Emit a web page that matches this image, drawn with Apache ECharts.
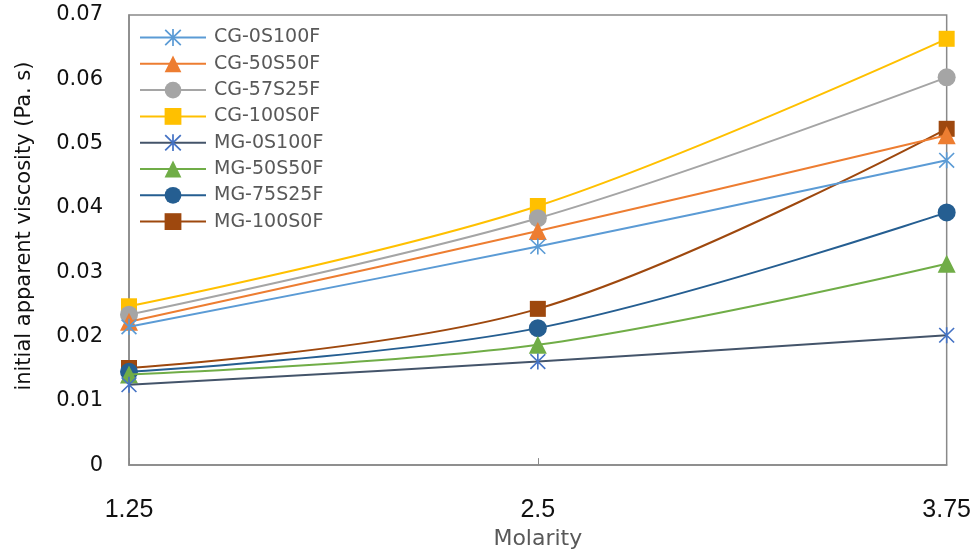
<!DOCTYPE html>
<html>
<head>
<meta charset="utf-8">
<script src="https://cdn.jsdelivr.net/npm/echarts@6/dist/echarts.min.js"></script>
<style>html,body{margin:0;padding:0;background:#fff;}#main{width:974px;height:555px;}</style>
</head>
<body>
<div id="main"></div>
<script>
// ---- data ----
var molarity = [1.25, 2.5, 3.75];
var xTicks = ['1.25', '2.5', '3.75'];
var seriesNames = ['CG-0S100F','CG-50S50F','CG-57S25F','CG-100S0F','MG-0S100F','MG-50S50F','MG-75S25F','MG-100S0F'];
var cg0S100F  = [0.0215, 0.0340, 0.0474];
var cg50S50F  = [0.0223, 0.0364, 0.0513];
var cg57S25F  = [0.0234, 0.0384, 0.0603];
var cg100S0F  = [0.0247, 0.0403, 0.0663];
var mg0S100F  = [0.0125, 0.0161, 0.0202];
var mg50S50F  = [0.0141, 0.0187, 0.0313];
var mg75S25F  = [0.0145, 0.0213, 0.0393];
var mg100S0F  = [0.0151, 0.0243, 0.0523];
var yTicks = [0, 0.01, 0.02, 0.03, 0.04, 0.05, 0.06, 0.07];

// star (asterisk) marker path built from thin bars
function bar(x1,y1,x2,y2,t){
  var dx=x2-x1, dy=y2-y1, L=Math.sqrt(dx*dx+dy*dy);
  var nx=-dy/L*t, ny=dx/L*t;
  return 'M'+(x1+nx)+','+(y1+ny)+'L'+(x2+nx)+','+(y2+ny)+'L'+(x2-nx)+','+(y2-ny)+'L'+(x1-nx)+','+(y1-ny)+'Z';
}
var starPath = 'path://' + bar(-10,-10,10,10,1.1) + bar(-10,10,10,-10,1.1) + bar(0,-11,0,11,1.1);

var colors = ['#5B9BD5','#ED7D31','#A5A5A5','#FFC000','#44546A','#70AD47','#255E91','#9E480E'];
var markerColors = ['#5B9BD5','#ED7D31','#A5A5A5','#FFC000','#4472C4','#70AD47','#255E91','#9E480E'];
var symbols = [starPath,'triangle','circle','rect',starPath,'triangle','circle','rect'];
var sizes = [16,18,18,16,16,18,18,16];
var values = [cg0S100F,cg50S50F,cg57S25F,cg100S0F,mg0S100F,mg50S50F,mg75S25F,mg100S0F];

var series = seriesNames.map(function(n,i){
  return {
    name: n, type: 'line', smooth: 0.35,
    data: molarity.map(function(x,j){ return [x, values[i][j]]; }),
    symbol: symbols[i], symbolSize: sizes[i], showSymbol: true,
    lineStyle: {color: colors[i], width: 2},
    itemStyle: {color: markerColors[i]},
    z: 2 + (8 - i)
  };
});

var chart = echarts.init(document.getElementById('main'));
chart.setOption({
  animation: false,
  grid: {left: 129, right: 25, top: 15, bottom: 80, show: true, borderColor: '#898989', borderWidth: 1.5},
  legend: {
    orient: 'vertical', left: 139, top: 28, padding: 0,
    itemWidth: 66, itemHeight: 21, itemGap: 7.3,
    data: seriesNames,
    textStyle: {fontFamily: 'DejaVu Sans', fontSize: 19, color: '#595959', padding: [0,0,0,3]}
  },
  xAxis: {
    type: 'value', min: 1.25, max: 3.75, interval: 1.25,
    name: 'Molarity', nameLocation: 'middle', nameGap: 53,
    nameTextStyle: {fontFamily: 'DejaVu Sans', fontSize: 22, color: '#595959'},
    axisLine: {show: true, lineStyle: {color: '#898989', width: 1.5}},
    axisTick: {show: true, inside: true, length: 7, lineStyle: {color: '#898989', width: 1}},
    splitLine: {show: false},
    axisLabel: {margin: 33, fontFamily: 'Liberation Sans', fontSize: 25, color: '#111',
      formatter: function(v){ var i = molarity.indexOf(v); return i >= 0 ? xTicks[i] : ''; }}
  },
  yAxis: {
    type: 'value', min: 0, max: 0.07, interval: 0.01,
    name: 'initial apparent viscosity (Pa. s)', nameLocation: 'middle', nameGap: 94,
    nameTextStyle: {fontFamily: 'DejaVu Sans', fontSize: 21, color: '#111', padding: [0,0,0,28]},
    axisLine: {show: true, lineStyle: {color: '#898989', width: 1.5}},
    axisTick: {show: false},
    splitLine: {show: false},
    axisLabel: {margin: 26, fontFamily: 'DejaVu Sans', fontSize: 21, color: '#111', padding: [10,0,0,0],
      formatter: function(v){ var i = yTicks.findIndex(function(t){return Math.abs(t-v)<1e-9;}); return i===0 ? '0' : (i>0 ? yTicks[i].toFixed(2) : ''); }}
  },
  series: series
});
</script>
</body>
</html>
